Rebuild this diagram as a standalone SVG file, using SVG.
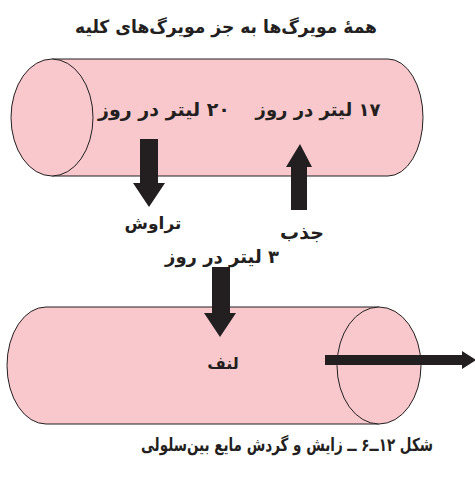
<svg xmlns="http://www.w3.org/2000/svg" width="475" height="477" viewBox="0 0 475 477">
<style>
.tube{fill:#F9C8CC;stroke:#231F20;stroke-width:1}
.arrow{fill:#231F20;stroke:none}
text{font-family:"DejaVu Sans",sans-serif;font-weight:bold;fill:#231F20;direction:rtl;text-anchor:middle}
</style>
<rect width="475" height="477" fill="#FFFFFF"/>
<text id="title" x="226" y="33" font-size="18" textLength="302" lengthAdjust="spacingAndGlyphs">همهٔ مویرگ‌ها به جز مویرگ‌های کلیه</text>
<g id="capillary">
<path class="tube" d="M52,59 L388,59 A35,58.5 0 0 1 388,176 L52,176 Z"/>
<ellipse class="tube" cx="52" cy="117.5" rx="41" ry="58.5"/>
<text x="318" y="116" font-size="18">۱۷ لیتر در روز</text>
<text x="164" y="116" font-size="19">۲۰ لیتر در روز</text>
</g>
<g id="lymph">
<path class="tube" d="M379,307 L46,307 A39,58.5 0 0 0 46,424 L379,424"/>
<ellipse class="tube" cx="379" cy="365.5" rx="42" ry="58.5"/>
<text x="223" y="369" font-size="16">لنف</text>
</g>
<g id="connectors">
<polygon class="arrow" points="140,139 158,139 158,183 165,183 149,207 133,183 140,183"/>
<polygon class="arrow" points="300,144 312,167 307,167 307,210 291,210 291,167 286,167"/>
<polygon class="arrow" points="212,267 230,267 230,313 236,313 220,337 204,313 212,313"/>
<polygon class="arrow" points="325,355 462,355 462,351 476,360 462,369 462,365 325,365"/>
</g>
<g id="labels">
<text x="153" y="229" font-size="17">تراوش</text>
<text x="302" y="239" font-size="19">جذب</text>
<text x="222" y="263" font-size="18">۳ لیتر در روز</text>
</g>
<text id="caption" x="287" y="451" font-size="18" textLength="292" lengthAdjust="spacingAndGlyphs">شکل ۱۲ــ۶ ــ زایش و گردش مایع بین‌سلولی</text>
</svg>
